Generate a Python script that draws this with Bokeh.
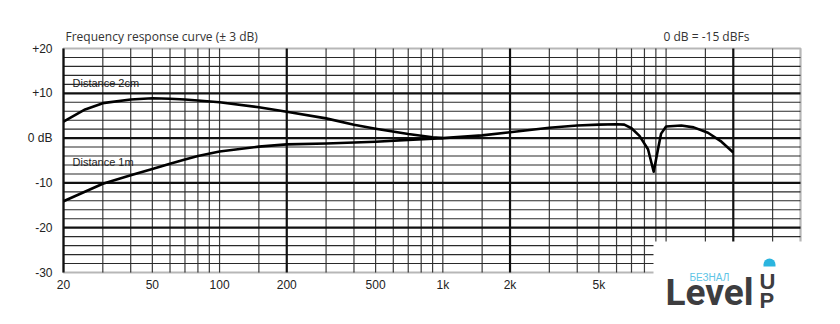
import math
from bokeh.plotting import figure
from bokeh.models import FixedTicker, Label, BoxAnnotation, Range1d, LogAxis, LinearAxis
from bokeh.embed import file_html
from bokeh.resources import INLINE

# ---- data ----
freq_2cm = [20, 25, 30, 40, 50, 60, 70, 80, 100, 150, 200, 300, 400, 500, 700, 900, 1000]
db_2cm = [3.7, 6.4, 7.8, 8.6, 8.9, 8.8, 8.6, 8.4, 8.0, 6.9, 5.9, 4.4, 3.0, 2.1, 0.9, 0.2, 0.0]

freq_1m = [20, 30, 40, 50, 60, 70, 80, 100, 150, 200, 300, 500, 700, 1000]
db_1m = [-14.1, -10.2, -8.3, -6.9, -5.7, -4.8, -4.0, -3.0, -1.9, -1.4, -1.2, -0.8, -0.4, 0.0]

freq_hf = [1000, 1500, 2000, 3000, 4000, 5000, 6000, 6500, 7000, 7600, 8300, 8800,
           9200, 9500, 10000, 11700, 13300, 15400, 17700, 20000]
db_hf = [0.0, 0.6, 1.3, 2.3, 2.8, 3.0, 3.1, 3.0, 2.2, 0.5, -2.5, -7.5,
         -2.5, 1.0, 2.6, 2.8, 2.4, 1.2, -0.8, -3.2]

x_tick_values = [20, 50, 100, 200, 500, 1000, 2000, 5000]
x_tick_labels = ["20", "50", "100", "200", "500", "1k", "2k", "5k"]
y_tick_values = [-30, -20, -10, 0, 10, 20]
y_tick_labels = ["-30", "-20", "-10", "0 dB", "+10", "+20"]

v_grid_major = [20, 200, 2000, 20000]
v_grid_minor = [30, 40, 50, 60, 70, 80, 90, 100, 150,
                300, 400, 500, 600, 700, 800, 900, 1000, 1500,
                3000, 4000, 5000, 6000, 7000, 8000, 9000, 10000, 15000, 30000]
h_grid_major = [-20, -10, 0, 10]
h_grid_minor = [v for v in range(-28, 20, 2) if v % 10 != 0]

X_MIN, X_MAX = 20, 40000      # chart frequency span (Hz)
Y_MIN, Y_MAX = -30, 20        # chart level span (dB)

title_text = "Frequency response curve (\u00b1 3 dB)"
note_text = "0 dB = -15 dBFs"

# ---- layout (pixels) ----
W, H = 840, 324
PLOT_L, PLOT_R, PLOT_T, PLOT_B = 63, 800, 48, 272

px_per_dec = (PLOT_R - PLOT_L) / math.log10(X_MAX / X_MIN)
px_per_db = (PLOT_B - PLOT_T) / (Y_MAX - Y_MIN)
xr = Range1d(X_MIN * 10 ** (-PLOT_L / px_per_dec), X_MAX * 10 ** ((W - PLOT_R) / px_per_dec))
yr = Range1d(Y_MIN - (H - PLOT_B) / px_per_db, Y_MAX + PLOT_T / px_per_db)

p = figure(width=W, height=H, x_axis_type="log", x_range=xr, y_range=yr,
           x_axis_location=None, y_axis_location=None,
           output_backend="svg", toolbar_location=None,
           min_border=0, min_border_left=0, min_border_right=0,
           min_border_top=0, min_border_bottom=0)
p.background_fill_color = "white"
p.border_fill_color = "white"
p.outline_line_color = None
p.xgrid.visible = False
p.ygrid.visible = False

# ---- grid ----
def vlines(xs, color, width):
    p.segment(x0=xs, y0=[Y_MIN] * len(xs), x1=xs, y1=[Y_MAX] * len(xs),
              line_color=color, line_width=width)

def hlines(ys, color, width):
    p.segment(x0=[X_MIN] * len(ys), y0=ys, x1=[X_MAX] * len(ys), y1=ys,
              line_color=color, line_width=width)

vlines(v_grid_minor, "#3c3c3c", 1.2)
hlines(h_grid_minor, "#2a2a2a", 1.1)
hlines(h_grid_major, "#111111", 2.2)
vlines(v_grid_major, "#111111", 2.2)

p.add_layout(BoxAnnotation(left=X_MIN, right=X_MAX, bottom=Y_MIN, top=Y_MAX,
                           fill_alpha=0, line_color="#111111", line_width=2.2))

# ---- axes ----
xaxis = LogAxis(ticker=FixedTicker(ticks=x_tick_values), fixed_location=Y_MIN,
                major_label_overrides={v: s for v, s in zip(x_tick_values, x_tick_labels)},
                major_label_standoff=5)
yaxis = LinearAxis(ticker=FixedTicker(ticks=y_tick_values), fixed_location=X_MIN,
                   major_label_overrides={v: s for v, s in zip(y_tick_values, y_tick_labels)},
                   major_label_standoff=11)
for ax in (xaxis, yaxis):
    ax.axis_line_color = None
    ax.major_tick_line_color = None
    ax.minor_tick_line_color = None
    ax.major_tick_out = 0
    ax.major_tick_in = 0
    ax.major_label_text_font = "Liberation Sans"
    ax.major_label_text_font_size = "12px"
    ax.major_label_text_color = "#222222"
p.add_layout(xaxis, "below")
p.add_layout(yaxis, "left")

# ---- curves ----
p.line(freq_2cm, db_2cm, line_color="black", line_width=2.6, line_join="round")
p.line(freq_1m, db_1m, line_color="black", line_width=2.6, line_join="round")
p.line(freq_hf, db_hf, line_color="black", line_width=2.6, line_join="round")

# ---- texts (x, y: left edge and vertical centre, in pixels from the top-left) ----
def label(x, y, text, font, size, color, style="normal", level="annotation"):
    p.add_layout(Label(x=x, y=H - y, x_units="screen", y_units="screen", text=text,
                       text_baseline="middle", text_font=font, text_font_size=size,
                       text_color=color, text_font_style=style, level=level))

label(65, 36, title_text, "Open Sans", "12px", "#333333")
label(663, 36, note_text, "Open Sans", "12px", "#333333")
label(72, 82, "Distance 2cm", "Liberation Sans", "11px", "#222222")
label(72, 161, "Distance 1m", "Liberation Sans", "11px", "#222222")

# ---- watermark logo ----
p.add_layout(BoxAnnotation(left=653, right=W, bottom=0, top=H - 241,
                           left_units="screen", right_units="screen",
                           bottom_units="screen", top_units="screen",
                           fill_color="white", fill_alpha=1.0, line_color=None,
                           level="overlay"))
p.add_layout(BoxAnnotation(left=763, right=775, bottom=H - 266, top=H - 258,
                           left_units="screen", right_units="screen",
                           bottom_units="screen", top_units="screen",
                           fill_color="#2bb5df", fill_alpha=1.0, line_color=None,
                           border_radius=(6, 6, 0, 0), level="overlay"))
label(665, 292, "Level", "Roboto", "37px", "#3d3d3f", "bold", "overlay")
label(689, 276.5, "БЕЗНАЛ", "Liberation Sans", "10px", "#5ec4e6", "normal", "overlay")
label(759, 281, "U", "Liberation Sans", "22px", "#3d3d3f", "bold", "overlay")
label(759, 299.5, "P", "Liberation Sans", "22px", "#3d3d3f", "bold", "overlay")

open("out.html", "w").write(file_html(p, INLINE))
